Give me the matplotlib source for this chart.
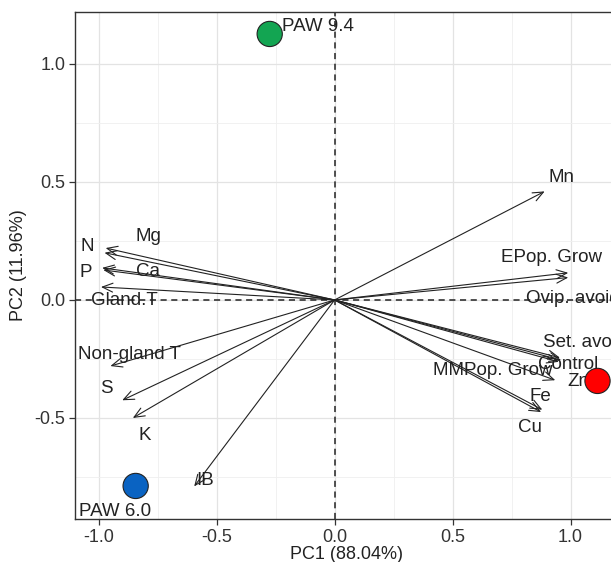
import numpy as np
import matplotlib
matplotlib.use("Agg")
import matplotlib.pyplot as plt
from matplotlib.ticker import MultipleLocator

plt.rcParams['font.family'] = ['Liberation Sans', 'DejaVu Sans']

# variable loadings (arrow tips)
var_names = ['Mn', 'EPop. Grow', 'Ovip. avoid', 'Set. avoid', 'Control', 'MMPop. Grow',
             'Zn', 'Fe', 'Cu', 'Mg', 'N', 'P', 'Ca', 'Gland.T', 'Non-gland T', 'S', 'K', 'IB']
var_pc1 = [0.89, 0.99, 0.99, 0.955, 0.96, 0.95,
           0.935, 0.88, 0.875, -0.97, -0.975, -0.985, -0.98, -0.99, -0.95, -0.90, -0.855, -0.595]
var_pc2 = [0.46, 0.115, 0.095, -0.245, -0.255, -0.262,
           -0.34, -0.465, -0.475, 0.22, 0.20, 0.136, 0.127, 0.055, -0.28, -0.425, -0.50, -0.79]

# sample scores
sample_names = ['PAW 9.4', 'PAW 6.0', '']
sample_pc1 = [-0.275, -0.843, 1.114]
sample_pc2 = [1.127, -0.788, -0.343]
sample_colors = ['#13a552', '#0a63c2', '#ff0000']

# label placement (x, y, horizontal alignment)
var_label_pos = {
    'Mn': (0.96, 0.52, 'center'), 'EPop. Grow': (0.92, 0.18, 'center'),
    'Ovip. avoid': (0.81, 0.008, 'left'), 'Set. avoid': (0.885, -0.182, 'left'),
    'Control': (0.86, -0.275, 'left'), 'MMPop. Grow': (0.67, -0.30, 'center'),
    'Zn': (0.985, -0.347, 'left'), 'Fe': (0.87, -0.41, 'center'),
    'Cu': (0.826, -0.54, 'center'), 'Mg': (-0.79, 0.27, 'center'),
    'N': (-1.047, 0.225, 'center'), 'P': (-1.055, 0.115, 'center'),
    'Ca': (-0.79, 0.12, 'center'), 'Gland.T': (-0.89, -0.004, 'center'),
    'Non-gland T': (-0.87, -0.233, 'center'), 'S': (-0.966, -0.373, 'center'),
    'K': (-0.805, -0.576, 'center'), 'IB': (-0.55, -0.763, 'center'),
}
sample_label_pos = {'PAW 9.4': (-0.225, 1.157, 'left'), 'PAW 6.0': (-0.932, -0.898, 'center')}

fig = plt.figure(figsize=(6.11, 5.62), dpi=100)
ax = fig.add_axes([75 / 611, 43 / 562, (2.3 * 236) / 611, 507 / 562])

ax.set_xlim(-1.1, 1.2)
ax.set_ylim(-0.928, 1.22)

ax.xaxis.set_major_locator(MultipleLocator(0.5))
ax.yaxis.set_major_locator(MultipleLocator(0.5))
ax.xaxis.set_minor_locator(MultipleLocator(0.25))
ax.yaxis.set_minor_locator(MultipleLocator(0.25))
ax.grid(which='major', color='#e3e3e3', lw=0.9)
ax.grid(which='minor', color='#efefef', lw=0.6)
ax.set_axisbelow(True)
ax.tick_params(which='minor', length=0)
ax.tick_params(which='major', length=4, width=0.9, color='#333333',
               labelsize=13, labelcolor='#333333', pad=3)
ax.xaxis.set_major_formatter(plt.FuncFormatter(lambda v, p: '{0:.1f}'.format(v)))
ax.yaxis.set_major_formatter(plt.FuncFormatter(lambda v, p: '{0:.1f}'.format(v)))
for sp in ax.spines.values():
    sp.set_color('#333333')
    sp.set_linewidth(1.0)

ax.axhline(0, color='#222222', ls=(0, (4, 3)), lw=1.1, zorder=1)
ax.axvline(0, color='#222222', ls=(0, (4, 3)), lw=1.1, zorder=1)

for name, x, y in zip(var_names, var_pc1, var_pc2):
    ax.annotate('', xy=(x, y), xytext=(0, 0),
                arrowprops=dict(arrowstyle='->,head_length=0.75,head_width=0.32',
                                lw=0.8, color='#222222', shrinkA=0, shrinkB=0),
                zorder=2)
    lx, ly, ha = var_label_pos[name]
    ax.text(lx, ly, name, ha=ha, va='center', fontsize=13.5, color='#222222', zorder=3)

ax.scatter(sample_pc1, sample_pc2, s=330, c=sample_colors, edgecolors='#222222',
           linewidths=0.8, zorder=4, clip_on=False)
for name in sample_names:
    if name in sample_label_pos:
        lx, ly, ha = sample_label_pos[name]
        ax.text(lx, ly, name, ha=ha, va='center', fontsize=13.5, color='#222222', zorder=5)

ax.set_xlabel('PC1 (88.04%)', fontsize=13, color='#222222', labelpad=0)
ax.set_ylabel('PC2 (11.96%)', fontsize=13, color='#222222', labelpad=5)

fig.savefig('out.png', dpi=100)
